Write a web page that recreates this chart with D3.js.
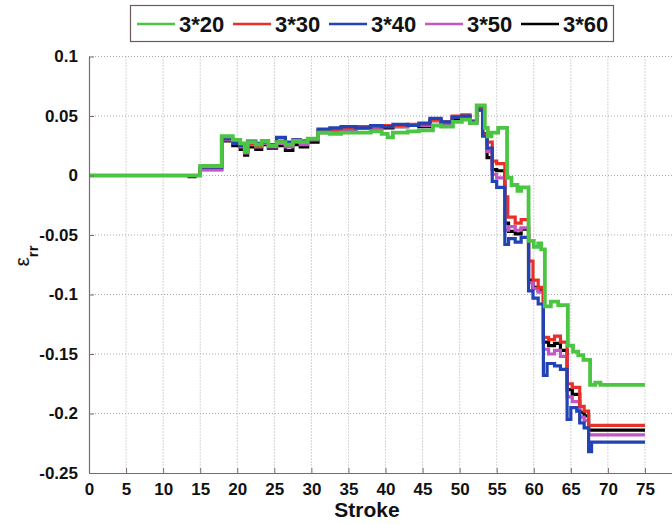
<!DOCTYPE html>
<html>
<head>
<meta charset="utf-8">
<script src="https://cdn.jsdelivr.net/npm/d3@7"></script>
<style>
  html, body { margin: 0; padding: 0; background: #fff; }
  svg { display: block; font-family: "Liberation Sans", Arial, sans-serif; }
</style>
</head>
<body>
<svg id="chart" width="672" height="524"></svg>
<script>
// Radial strain ε_rr versus stroke number for five mesh settings
const seriesNames = ["3*20", "3*30", "3*40", "3*50", "3*60"];
const seriesColors = ["#4cc543", "#e8302a", "#2143b4", "#c257c4", "#000000"];

// [stroke, ε_rr] breakpoints; each value holds until the next stroke
const s3x20 = [[0,0],[15,0.008],[17.9,0.033],[19.4,0.030],[20.4,0.027],[21.0,0.020],[21.4,0.028],[22.5,0.026],[23.3,0.029],[24.2,0.025],[25.3,0.028],[26.5,0.026],[27.5,0.029],[28.5,0.028],[29.5,0.031],[30.9,0.036],[32.5,0.035],[34.0,0.036],[36.0,0.036],[38.0,0.037],[39.5,0.035],[40.3,0.032],[41.0,0.036],[43.0,0.037],[44.5,0.038],[46.4,0.042],[47.5,0.041],[49.1,0.045],[50.3,0.047],[51.4,0.044],[52.3,0.059],[53.4,0.040],[53.8,0.033],[54.3,0.036],[55.2,0.040],[56.4,-0.002],[57.0,-0.008],[57.8,-0.013],[58.3,-0.010],[59.3,-0.055],[60.0,-0.060],[60.6,-0.057],[61.0,-0.062],[61.5,-0.110],[62.3,-0.106],[63.3,-0.109],[64.6,-0.143],[65.3,-0.148],[66.0,-0.151],[66.7,-0.155],[67.6,-0.176],[68.3,-0.174],[69.0,-0.176],[75,-0.176]];
const s3x30 = [[0,0],[15,0.007],[17.9,0.031],[19.4,0.028],[20.4,0.025],[21.0,0.020],[21.4,0.027],[22.5,0.025],[23.3,0.028],[24.2,0.026],[25.3,0.029],[26.5,0.027],[27.5,0.030],[28.5,0.029],[29.5,0.031],[30.9,0.038],[32.5,0.039],[34.0,0.040],[36.0,0.041],[38.0,0.041],[39.5,0.042],[41.0,0.042],[43.0,0.043],[44.5,0.043],[46.0,0.047],[47.5,0.045],[49.0,0.050],[50.3,0.051],[51.4,0.046],[52.3,0.056],[53.1,0.034],[53.7,0.028],[54.4,0.012],[55.0,0.010],[56.1,-0.018],[56.5,-0.035],[57.5,-0.040],[58.3,-0.037],[59.3,-0.072],[59.9,-0.088],[60.6,-0.094],[61.3,-0.136],[62.0,-0.138],[62.8,-0.135],[63.6,-0.140],[64.5,-0.175],[65.2,-0.178],[66.2,-0.194],[66.8,-0.198],[67.4,-0.210],[75,-0.210]];
const s3x40 = [[0,0],[15,0.007],[17.9,0.031],[19.4,0.027],[20.4,0.025],[21.0,0.021],[21.4,0.029],[22.5,0.027],[23.3,0.029],[24.2,0.026],[25.3,0.032],[26.5,0.028],[27.5,0.030],[28.5,0.029],[29.5,0.031],[30.9,0.039],[32.5,0.040],[34.0,0.041],[36.0,0.040],[38.0,0.042],[39.5,0.041],[41.0,0.043],[43.0,0.042],[44.5,0.044],[46.0,0.048],[47.5,0.045],[49.0,0.049],[50.3,0.050],[51.4,0.045],[52.3,0.055],[53.1,0.033],[53.7,0.023],[54.4,-0.005],[55.0,-0.010],[56.1,-0.058],[56.6,-0.053],[57.5,-0.056],[58.3,-0.052],[59.3,-0.097],[59.9,-0.103],[60.6,-0.108],[61.3,-0.168],[61.8,-0.158],[62.8,-0.160],[63.6,-0.163],[64.5,-0.205],[65.0,-0.195],[65.8,-0.198],[66.2,-0.208],[66.8,-0.212],[67.4,-0.232],[67.8,-0.224],[75,-0.224]];
const s3x50 = [[0,0],[15,0.005],[17.9,0.030],[19.4,0.028],[20.4,0.024],[21.0,0.019],[21.4,0.026],[22.5,0.024],[23.3,0.027],[24.2,0.024],[25.3,0.027],[26.5,0.024],[27.5,0.028],[28.5,0.026],[29.5,0.030],[30.9,0.037],[32.5,0.038],[34.0,0.039],[36.0,0.040],[38.0,0.040],[39.5,0.041],[41.0,0.041],[43.0,0.042],[44.5,0.042],[46.0,0.046],[47.5,0.044],[49.0,0.049],[50.3,0.050],[51.4,0.045],[52.3,0.055],[53.1,0.034],[53.7,0.020],[54.4,0.001],[55.0,-0.002],[56.1,-0.046],[56.6,-0.043],[57.5,-0.046],[58.3,-0.044],[59.3,-0.090],[59.9,-0.095],[60.6,-0.098],[61.3,-0.146],[62.0,-0.150],[62.8,-0.147],[63.6,-0.152],[64.5,-0.186],[65.2,-0.190],[66.2,-0.203],[66.8,-0.206],[67.4,-0.218],[75,-0.218]];
const s3x60 = [[0,0],[13.5,-0.001],[14.3,0],[15,0.005],[17.9,0.029],[19.4,0.025],[20.4,0.022],[21.0,0.017],[21.4,0.024],[22.5,0.022],[23.3,0.026],[24.2,0.023],[25.3,0.025],[26.5,0.021],[27.5,0.026],[28.5,0.024],[29.5,0.028],[30.9,0.036],[32.5,0.038],[34.0,0.039],[36.0,0.040],[38.0,0.040],[39.5,0.040],[41.0,0.041],[43.0,0.042],[44.5,0.041],[46.0,0.046],[47.5,0.044],[49.0,0.048],[50.3,0.049],[51.4,0.044],[52.3,0.057],[53.1,0.035],[53.7,0.015],[54.4,0.005],[55.0,0.004],[56.1,-0.040],[56.6,-0.047],[57.5,-0.049],[58.3,-0.045],[59.3,-0.088],[59.9,-0.094],[60.6,-0.097],[61.3,-0.140],[62.0,-0.143],[62.8,-0.141],[63.6,-0.147],[64.5,-0.180],[65.2,-0.184],[66.2,-0.199],[66.8,-0.202],[67.4,-0.214],[75,-0.214]];

const xTicks = [0,5,10,15,20,25,30,35,40,45,50,55,60,65,70,75];
const yTicks = [0.1,0.05,0,-0.05,-0.1,-0.15,-0.2,-0.25];
const yTickLabels = ["0.1","0.05","0","-0.05","-0.1","-0.15","-0.2","-0.25"];

const seriesData = [s3x20, s3x30, s3x40, s3x50, s3x60];

const svg = d3.select("#chart");
const plotLeft = 89, plotRight = 682, plotTop = 56.5, plotBottom = 473;

const x = d3.scaleLinear().domain([0, 80]).range([plotLeft, plotRight]);
const y = d3.scaleLinear().domain([-0.25, 0.1]).range([plotBottom, plotTop]);

// dotted grid
const grid = svg.append("g").attr("stroke", "#aaaaaa").attr("stroke-width", 1)
  .attr("stroke-dasharray", "1,2");
grid.selectAll("line.v").data(xTicks.slice(1)).join("line")
  .attr("class", "v")
  .attr("x1", d => x(d)).attr("x2", d => x(d))
  .attr("y1", plotTop).attr("y2", plotBottom);
grid.selectAll("line.h").data(yTicks.slice(0, -1)).join("line")
  .attr("class", "h")
  .attr("x1", plotLeft).attr("x2", plotRight)
  .attr("y1", d => y(d)).attr("y2", d => y(d));

// series, drawn so that 3*20 sits on top
const line = d3.line().curve(d3.curveStepAfter)
  .x(d => x(d[0])).y(d => y(d[1]));
const order = [4, 3, 1, 2, 0];
svg.append("g").selectAll("path").data(order).join("path")
  .attr("d", i => line(seriesData[i]))
  .attr("fill", "none")
  .attr("stroke", i => seriesColors[i])
  .attr("stroke-width", i => i === 0 ? 3.8 : 3.2)
  .attr("stroke-linejoin", "miter");

// axes with inward ticks
const axisColor = "#7d6a6a";
const xAxis = d3.axisBottom(x).tickValues(xTicks).tickFormat(d3.format("d"))
  .tickSizeInner(-5).tickSizeOuter(0).tickPadding(10);
const gx = svg.append("g").attr("transform", `translate(0,${plotBottom})`).call(xAxis);
const yAxis = d3.axisLeft(y).tickValues(yTicks)
  .tickFormat((d, i) => yTickLabels[i])
  .tickSizeInner(-5).tickSizeOuter(0).tickPadding(11);
const gy = svg.append("g").attr("transform", `translate(${plotLeft},0)`).call(yAxis);
[gx, gy].forEach(g => {
  g.select(".domain").attr("stroke", axisColor).attr("stroke-width", 1.2);
  g.selectAll(".tick line").attr("stroke", axisColor);
  g.selectAll(".tick text").attr("fill", "#111").style("font-size", "17px")
    .style("font-weight", "bold").style("font-family", "'Liberation Sans', Arial, sans-serif");
});
gx.select(".tick line").remove();

// axis titles
svg.append("text").attr("x", x(37.5)).attr("y", 517).attr("text-anchor", "middle")
  .style("font-size", "21px").style("font-weight", "bold").attr("fill", "#111")
  .text("Stroke");
const yl = svg.append("text").attr("transform", "translate(29,256) rotate(-90)")
  .attr("text-anchor", "middle").style("font-size", "21px").attr("fill", "#111");
yl.append("tspan").text("ε");
yl.append("tspan").attr("baseline-shift", "sub").style("font-size", "15px")
  .style("font-weight", "bold").text("rr");

// legend
const lg = svg.append("g");
lg.append("rect").attr("x", 130.5).attr("y", 5.5).attr("width", 483).attr("height", 36)
  .attr("fill", "#fff").attr("stroke", "#6e5a5a").attr("stroke-width", 1.2);
const items = lg.selectAll("g.item").data(seriesNames).join("g")
  .attr("class", "item")
  .attr("transform", (d, i) => `translate(${137 + i * 96},24)`);
items.append("line").attr("x1", 0).attr("x2", 38).attr("y1", 0).attr("y2", 0)
  .attr("stroke", (d, i) => seriesColors[i]).attr("stroke-width", 2.5);
items.append("text").attr("x", 42).attr("y", 8).text(d => d)
  .style("font-size", "22px").style("font-weight", "bold").attr("fill", "#111");
</script>
</body>
</html>
